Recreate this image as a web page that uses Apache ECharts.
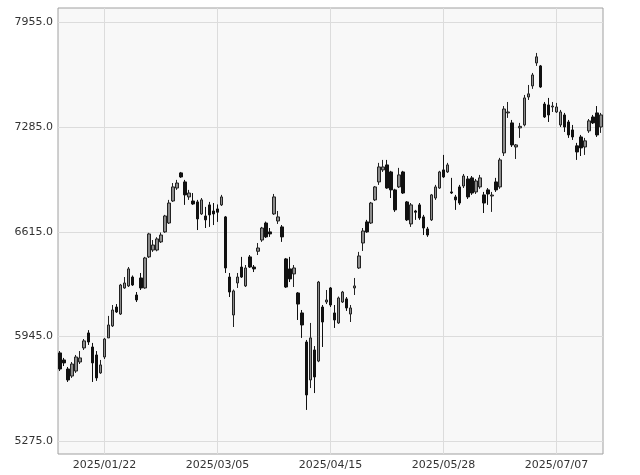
<!DOCTYPE html>
<html><head><meta charset="utf-8">
<script src="https://cdn.jsdelivr.net/npm/echarts@6/dist/echarts.min.js"></script>
<style>html,body{margin:0;padding:0;background:#fff}#c{width:640px;height:475px}</style>
</head><body><div id="c"></div>
<script>
const dates = [
"2025/01/06","2025/01/07","2025/01/08","2025/01/09","2025/01/10","2025/01/14","2025/01/15","2025/01/16","2025/01/17","2025/01/20","2025/01/21","2025/01/22","2025/01/23","2025/01/24","2025/01/27","2025/01/28","2025/01/29","2025/01/30","2025/01/31",
"2025/02/03","2025/02/04","2025/02/05","2025/02/06","2025/02/07","2025/02/10","2025/02/12","2025/02/13","2025/02/14","2025/02/17","2025/02/18","2025/02/19","2025/02/20","2025/02/21","2025/02/25","2025/02/26","2025/02/27","2025/02/28",
"2025/03/03","2025/03/04","2025/03/05","2025/03/06","2025/03/07","2025/03/10","2025/03/11","2025/03/12","2025/03/13","2025/03/14","2025/03/17","2025/03/18","2025/03/19","2025/03/21","2025/03/24","2025/03/25","2025/03/26","2025/03/27","2025/03/28","2025/03/31",
"2025/04/01","2025/04/02","2025/04/03","2025/04/04","2025/04/07","2025/04/08","2025/04/09","2025/04/10","2025/04/11","2025/04/14","2025/04/15","2025/04/16","2025/04/17","2025/04/18","2025/04/21","2025/04/22","2025/04/23","2025/04/24","2025/04/25","2025/04/28","2025/04/30",
"2025/05/01","2025/05/02","2025/05/07","2025/05/08","2025/05/09","2025/05/12","2025/05/13","2025/05/14","2025/05/15","2025/05/16","2025/05/19","2025/05/20","2025/05/21","2025/05/22","2025/05/23","2025/05/26","2025/05/27","2025/05/28","2025/05/29","2025/05/30",
"2025/06/02","2025/06/03","2025/06/04","2025/06/05","2025/06/06","2025/06/09","2025/06/10","2025/06/11","2025/06/12","2025/06/13","2025/06/16","2025/06/17","2025/06/18","2025/06/19","2025/06/20","2025/06/23","2025/06/24","2025/06/25","2025/06/26","2025/06/27","2025/06/30",
"2025/07/01","2025/07/02","2025/07/03","2025/07/04","2025/07/07","2025/07/08","2025/07/09","2025/07/10","2025/07/11","2025/07/14","2025/07/15","2025/07/16","2025/07/17","2025/07/18","2025/07/22","2025/07/23"
];
const openV = [5839,5794,5736,5691,5723,5781,5871,5967,5877,5826,5711,5813,5935,6012,6133,6088,6255,6268,6325,6210,6319,6255,6454,6498,6498,6550,6614,6671,6812,6895,6992,6934,6838,6812,6806,6729,6716,6787,6748,6761,6787,6710,6325,6082,6287,6389,6268,6454,6389,6490,6562,6671,6614,6729,6684,6646,6441,6377,6345,6223,6095,5909,5666,5858,5787,6133,6165,6255,6095,6031,6165,6185,6088,6255,6383,6543,6678,6671,6819,6934,7011,7043,6998,6883,6902,6998,6806,6665,6748,6787,6710,6633,6691,6831,6895,7011,6998,6870,6838,6902,6908,6953,6960,6870,6902,6851,6883,6844,6934,6902,7120,7376,7312,7158,7280,7299,7478,7549,7696,7677,7433,7427,7414,7382,7299,7363,7318,7267,7165,7222,7158,7261,7350,7376,7286];
const closeV = [5736,5775,5666,5768,5813,5807,5916,5909,5775,5679,5762,5928,6018,6114,6101,6274,6287,6377,6274,6178,6255,6447,6601,6530,6569,6594,6716,6799,6902,6927,6966,6851,6863,6793,6697,6819,6691,6723,6729,6740,6838,6383,6229,6236,6325,6325,6383,6389,6377,6511,6639,6582,6601,6838,6710,6582,6261,6313,6383,6152,6018,5570,5935,5685,6293,6037,6178,6146,6050,6191,6229,6127,6127,6268,6460,6620,6614,6799,6902,7030,7030,6895,6883,6755,6979,6863,6691,6787,6740,6703,6639,6594,6851,6902,6998,6966,7043,6863,6819,6799,6972,6838,6863,6940,6960,6799,6857,6850,6883,7075,7401,7382,7171,7171,7290,7472,7498,7619,7735,7542,7350,7363,7420,7414,7382,7286,7235,7222,7126,7152,7197,7325,7312,7235,7363];
const lowV = [5723,5755,5653,5679,5711,5768,5858,5890,5653,5660,5705,5800,5935,6005,6095,6082,6250,6261,6268,6165,6242,6250,6447,6486,6490,6543,6608,6665,6806,6883,6960,6787,6819,6787,6626,6723,6639,6646,6658,6678,6780,6351,6197,6005,6255,6319,6261,6383,6357,6466,6550,6575,6582,6723,6665,6550,6255,6293,6261,6050,5935,5474,5614,5582,5780,5877,6152,6133,5999,6025,6159,6108,6037,6210,6377,6492,6608,6665,6812,6915,6998,6890,6831,6742,6895,6857,6684,6646,6691,6691,6594,6582,6684,6819,6890,6960,6992,6857,6755,6787,6895,6825,6851,6857,6890,6735,6787,6742,6870,6890,7100,7344,7158,7081,7216,7290,7459,7530,7677,7536,7344,7318,7382,7376,7286,7254,7216,7203,7075,7100,7107,7248,7305,7222,7248];
const highV = [5851,5807,5749,5781,5826,5851,5928,5985,5903,5851,5794,5935,6076,6146,6152,6281,6325,6389,6335,6229,6351,6454,6608,6562,6580,6610,6723,6819,6927,6947,6998,6947,6883,6863,6819,6831,6774,6806,6799,6790,6851,6716,6351,6245,6351,6454,6402,6466,6402,6543,6646,6680,6639,6857,6748,6658,6447,6454,6402,6229,6114,5922,6031,5883,6300,6146,6242,6261,6146,6200,6236,6197,6146,6319,6486,6639,6691,6806,6908,7056,7075,7075,7005,6890,7024,7005,6812,6799,6755,6799,6723,6646,6857,6915,7005,7107,7056,6960,6851,6915,6985,6972,6972,6953,6979,6870,6895,6870,6960,7088,7420,7446,7331,7177,7312,7491,7555,7632,7760,7683,7446,7472,7446,7440,7395,7376,7331,7299,7184,7235,7216,7337,7363,7420,7376];
const yTicks = [5275, 5945, 6615, 7285, 7955];
const firstLabelIndex = 11, labelStep = 28;

const candles = dates.map((d, i) => [openV[i], closeV[i], lowV[i], highV[i]]);
const showIdx = (i) => i >= firstLabelIndex && (i - firstLabelIndex) % labelStep === 0;
const font = '"DejaVu Sans", Verdana, sans-serif';

const chart = echarts.init(document.getElementById('c'), null, {renderer: 'canvas'});
chart.setOption({
  animation: false,
  backgroundColor: '#ffffff',
  grid: [
    {left: 58, right: 37, top: 8, bottom: 21, show: true, backgroundColor: '#f8f8f8', borderColor: '#a0a0a0', borderWidth: 1},
    {left: 58, right: 37, top: 22.5, bottom: 34}
  ],
  xAxis: [
    {type: 'category', gridIndex: 0, data: dates, boundaryGap: true,
     axisLine: {show: false}, axisTick: {show: false},
     axisLabel: {interval: showIdx, color: '#333', fontSize: 11, fontFamily: font, margin: 6},
     splitLine: {show: true, interval: showIdx, alignWithLabel: true, lineStyle: {color: '#dcdcdc', width: 1}}},
    {type: 'category', gridIndex: 1, data: dates, boundaryGap: true, show: false}
  ],
  yAxis: [
    {type: 'value', gridIndex: 0, show: false},
    {type: 'value', gridIndex: 1, min: yTicks[0], max: yTicks[yTicks.length - 1], interval: yTicks[1] - yTicks[0],
     axisLine: {show: false}, axisTick: {show: false},
     axisLabel: {formatter: (v) => v.toFixed(1), color: '#333', fontSize: 11, fontFamily: font, margin: 5},
     splitLine: {show: true, lineStyle: {color: '#dcdcdc', width: 1}}}
  ],
  series: [{
    type: 'candlestick', xAxisIndex: 1, yAxisIndex: 1, data: candles, barWidth: 3,
    itemStyle: {color: '#8c8c8c', color0: '#111111', borderColor: '#222222', borderColor0: '#111111', borderWidth: 1}
  }]
});
</script></body></html>
